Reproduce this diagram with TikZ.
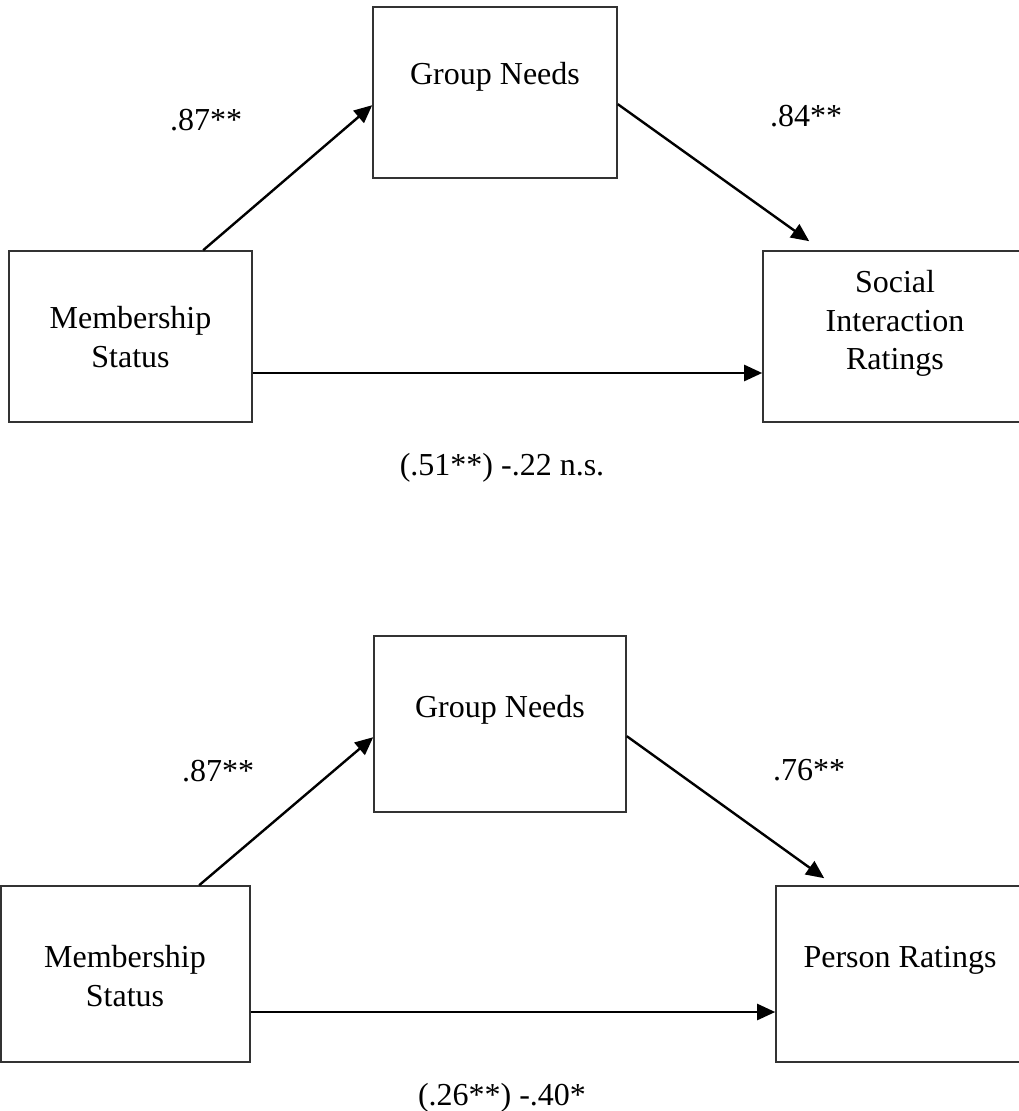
\documentclass[tikz,border=0pt]{standalone}
\usepackage{fontspec}
\setmainfont{Liberation Serif}
\usetikzlibrary{arrows.meta}
\begin{document}
\begin{tikzpicture}[x=0.5pt,y=-0.5pt,
  box/.style={draw=black!80, line width=0.8pt, inner sep=0pt, rectangle},
  txt/.style={inner sep=0pt, font=\fontsize{16}{19.25}\selectfont, align=center},
  arr/.style={-{Triangle[length=9pt,width=8pt]}, line width=1.2pt, draw=black}]
\useasboundingbox (0,0) rectangle (1018,1111);

% ---------- top model ----------
\node[box, minimum width=122pt, minimum height=85.5pt] (gn1) at (495,92.5) {};
\node[box, minimum width=121.5pt, minimum height=85.5pt] (ms1) at (130.5,336.5) {};
\node[box, minimum width=132pt, minimum height=85.5pt] (sir) at (895,336.5) {};

\node[txt, anchor=base] (gn1t) at (495,85) {Group Needs};
\node[txt, anchor=north] (ms1t) at (130.5,306) {Membership\\Status};
\node[txt, anchor=north] (sirt) at (895,270) {Social\\Interaction\\Ratings};

\draw[arr] ([xshift=97.5pt]ms1.north west) -- ([yshift=-49.5pt]gn1.north west);
\draw[arr] ([yshift=-49pt]gn1.north east) -- ([xshift=23.5pt,yshift=4.5pt]sir.north west);
\draw[arr] ([yshift=-18.25pt]ms1.east) -- ([yshift=-18.25pt]sir.west);

\node[txt, anchor=base] (l1) at (206,131) {.87**};
\node[txt, anchor=base] (l2) at (806,127) {.84**};
\node[txt, anchor=base] (l3) at (502,475) {(.51**) -.22 n.s.};

% ---------- bottom model ----------
\node[box, minimum width=126pt, minimum height=88pt] (gn2) at (500,724) {};
\node[box, minimum width=124.5pt, minimum height=88pt] (ms2) at (125.5,974) {};
\node[box, minimum width=124pt, minimum height=88pt] (pr) at (900,974) {};

\node[txt, anchor=base] (gn2t) at (500,717) {Group Needs};
\node[txt, anchor=north] (ms2t) at (125,945) {Membership\\Status};
\node[txt, anchor=base] (prt) at (900,967) {Person Ratings};

\draw[arr] ([xshift=99.5pt]ms2.north west) -- ([yshift=-51pt]gn2.north west);
\draw[arr] ([yshift=-50.5pt]gn2.north east) -- ([xshift=24.5pt,yshift=3.5pt]pr.north west);
\draw[arr] ([yshift=-19pt]ms2.east) -- ([yshift=-19pt]pr.west);

\node[txt, anchor=base] (l4) at (218,781) {.87**};
\node[txt, anchor=base] (l5) at (809,780) {.76**};
\node[txt, anchor=base] (l6) at (502,1105) {(.26**) -.40*};
\end{tikzpicture}
\end{document}
